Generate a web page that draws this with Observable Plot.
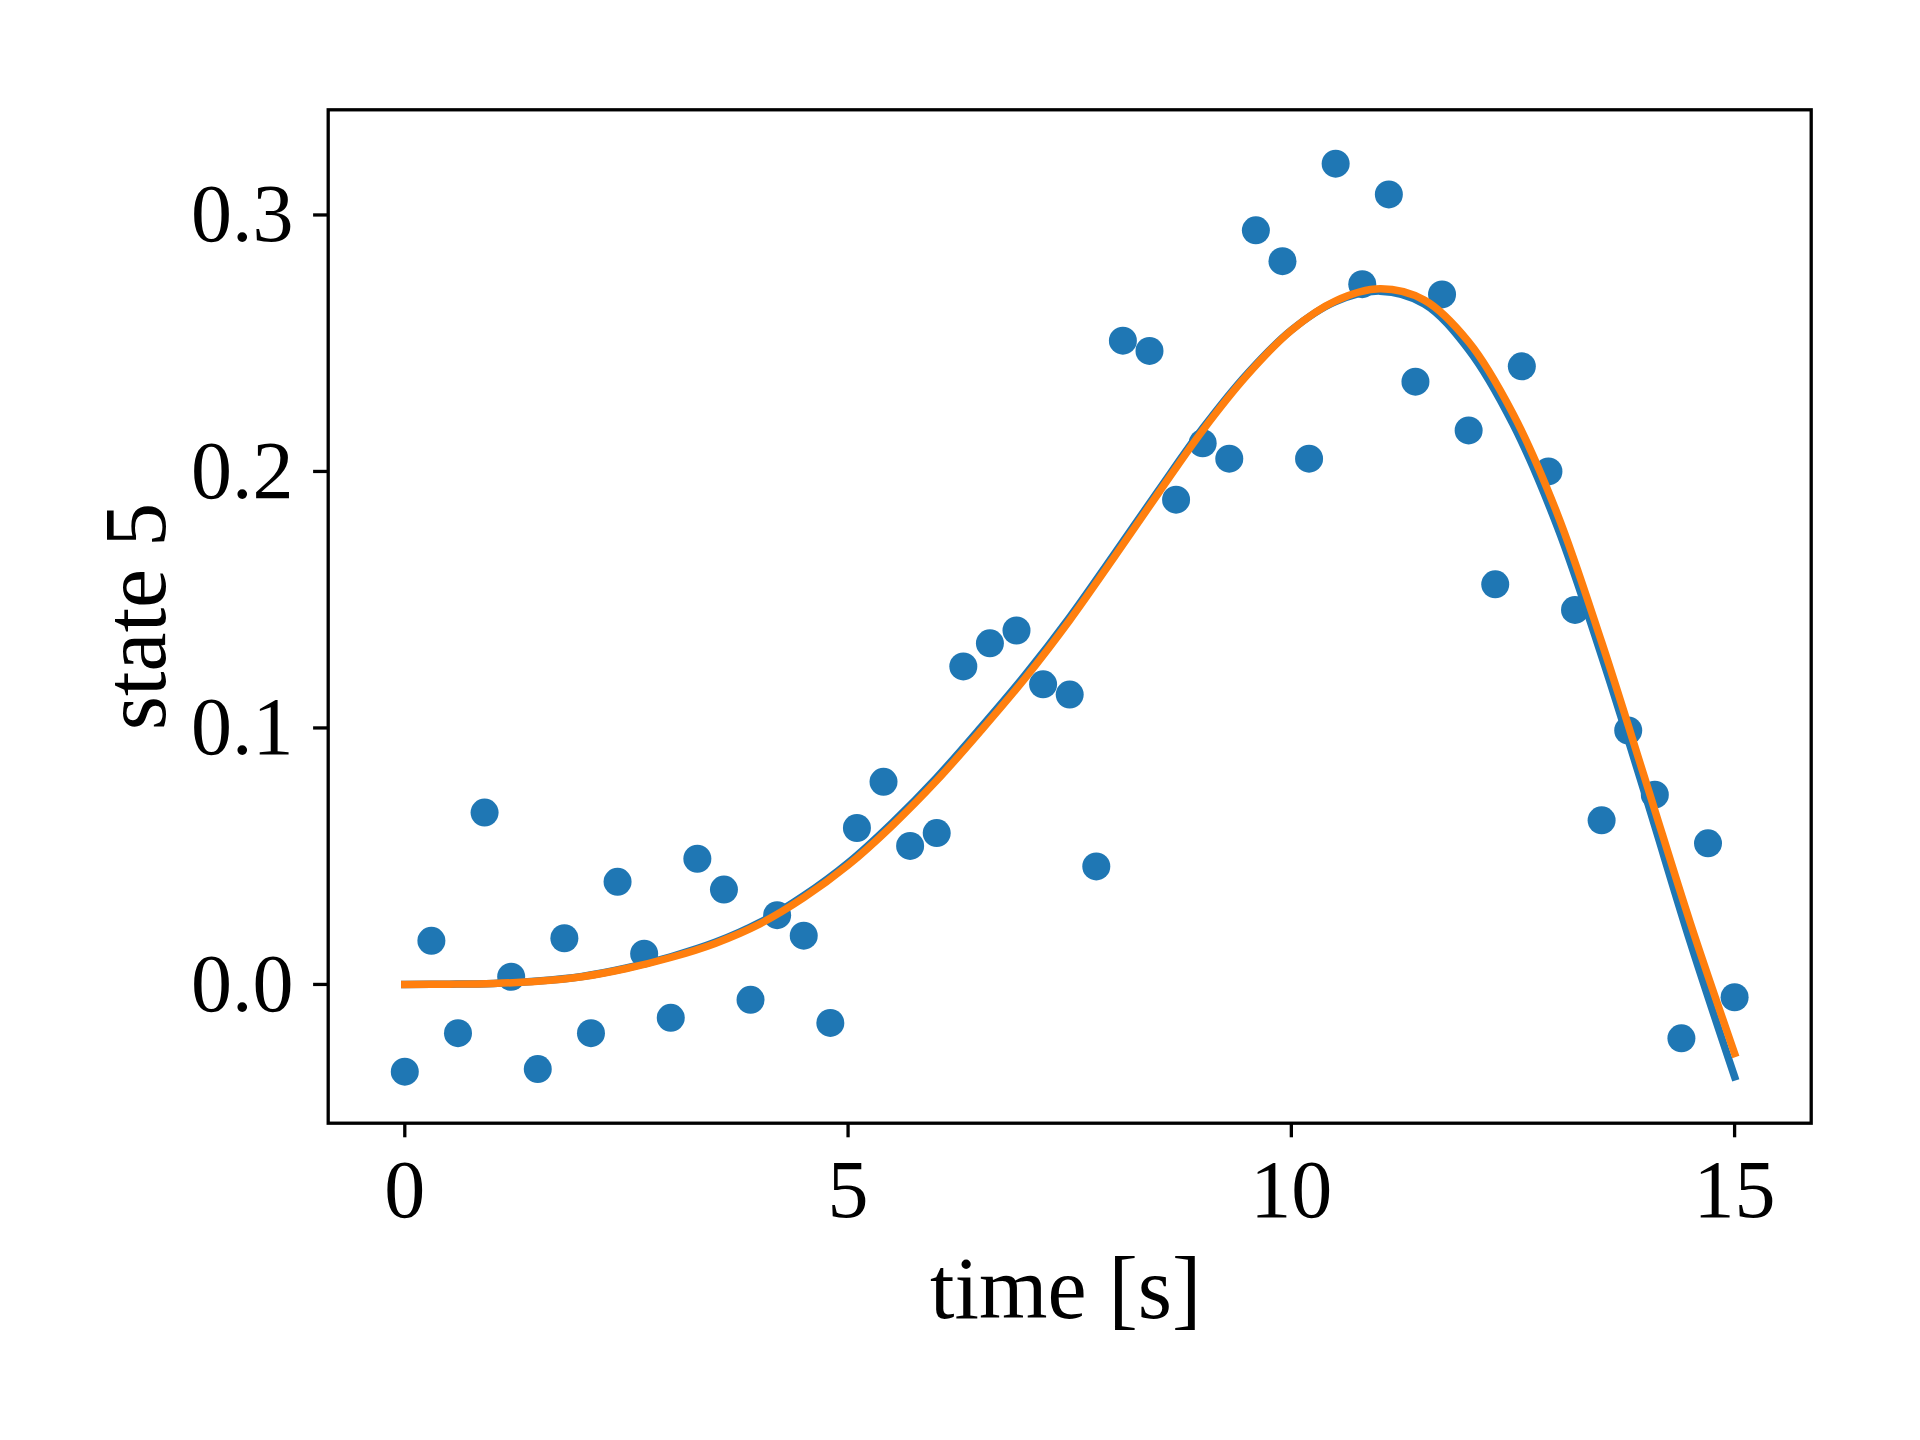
<!DOCTYPE html>
<html>
<head>
<meta charset="utf-8">
<script src="https://cdn.jsdelivr.net/npm/d3@7"></script>
<script src="https://cdn.jsdelivr.net/npm/@observablehq/plot@0.6"></script>
<style>
  html, body { margin: 0; padding: 0; background: #ffffff; }
  #chart { width: 1920px; height: 1440px; }
</style>
</head>
<body>
<div id="chart"></div>
<script>
// ---- data ----
const tObs = [0, 0.3, 0.6, 0.9, 1.2, 1.5, 1.8, 2.1, 2.4, 2.7, 3.0, 3.3, 3.6, 3.9, 4.2, 4.5, 4.8,
  5.1, 5.4, 5.7, 6.0, 6.3, 6.6, 6.9, 7.2, 7.5, 7.8, 8.1, 8.4, 8.7, 9.0, 9.3, 9.6, 9.9,
  10.2, 10.5, 10.8, 11.1, 11.4, 11.7, 12.0, 12.3, 12.6, 12.9, 13.2, 13.5, 13.8, 14.1, 14.4, 14.7, 15.0];
const yObs = [-0.034, 0.017, -0.019, 0.067, 0.003, -0.033, 0.018, -0.019, 0.040, 0.012, -0.013, 0.049, 0.037, -0.006, 0.027, 0.019, -0.015,
  0.061, 0.079, 0.054, 0.059, 0.124, 0.133, 0.138, 0.117, 0.113, 0.046, 0.251, 0.247, 0.189, 0.211, 0.205, 0.294, 0.282,
  0.205, 0.320, 0.273, 0.308, 0.235, 0.269, 0.216, 0.156, 0.241, 0.200, 0.146, 0.064, 0.099, 0.074, -0.021, 0.055, -0.005];

const tCurve = [0, 0.5, 1, 1.5, 2, 2.5, 3, 3.5, 4, 4.5, 5, 5.5, 6, 6.5, 7, 7.5, 8, 8.5, 9, 9.5,
  10, 10.5, 11, 11.5, 12, 12.5, 13, 13.5, 14, 14.5, 15];
const yTrue = [0, 0.0001, 0.0004, 0.0013, 0.0031, 0.0064, 0.0108, 0.0164, 0.0241, 0.0346, 0.0474, 0.0631, 0.0807, 0.1003, 0.1208, 0.1432, 0.1677, 0.1925, 0.2168, 0.2380,
  0.2551, 0.2662, 0.2703, 0.2653, 0.2475, 0.2185, 0.1785, 0.1280, 0.0730, 0.0165, -0.0360];
const yFit = [0, 0.0001, 0.0004, 0.0012, 0.0030, 0.0062, 0.0105, 0.0160, 0.0235, 0.0338, 0.0465, 0.0620, 0.0795, 0.0990, 0.1195, 0.1420, 0.1665, 0.1915, 0.2160, 0.2375,
  0.2550, 0.2665, 0.2712, 0.2668, 0.2505, 0.2225, 0.1835, 0.1335, 0.0790, 0.0240, -0.0269];

const xTicks = [0, 5, 10, 15];
const yTicks = [0, 0.1, 0.2, 0.3];
const xLabel = "time [s]";
const yLabel = "state 5";

// ---- tables ----
const obs = tObs.map((t, i) => ({t, y: yObs[i]}));
const trueLine = tCurve.map((t, i) => ({t, y: yTrue[i]}));
const fitLine = tCurve.map((t, i) => ({t, y: yFit[i]}));

const BLUE = "#1f77b4", ORANGE = "#ff7f0e";
const FONT = "'Liberation Serif', 'DejaVu Serif', serif";

const chart = Plot.plot({
  width: 1920,
  height: 1440,
  marginLeft: 327.7,
  marginRight: 109.3,
  marginTop: 109.3,
  marginBottom: 317.3,
  style: {fontFamily: FONT, fontSize: "82px", background: "#ffffff", color: "#000000"},
  x: {domain: [-0.864, 15.864]},
  y: {domain: [-0.0541, 0.341]},
  marks: [
    Plot.dot(obs, {x: "t", y: "y", r: 14, fill: BLUE, stroke: "none"}),
    Plot.line(trueLine, {x: "t", y: "y", stroke: BLUE, strokeWidth: 7.5, curve: "catmull-rom", strokeLinecap: "square"}),
    Plot.line(fitLine, {x: "t", y: "y", stroke: ORANGE, strokeWidth: 7.5, curve: "catmull-rom", strokeLinecap: "square"}),
    Plot.frame({stroke: "#000", strokeWidth: 3.3}),
    Plot.axisX({ticks: xTicks, tickSize: 14.6, tickPadding: 21, strokeWidth: 3.3, label: null,
      tickFormat: d3.format("d"), fontSize: 82, fill: "#000"}),
    Plot.axisY({ticks: yTicks, tickSize: 14.6, tickPadding: 20, strokeWidth: 3.3, label: null,
      tickFormat: d3.format(".1f"), fontSize: 82, fill: "#000"}),
    Plot.text([xLabel], {text: d => d, frameAnchor: "bottom", dx: -4, dy: 195, lineAnchor: "bottom",
      textAnchor: "middle", fontSize: 88, fill: "#000"}),
    Plot.text([yLabel], {text: d => d, frameAnchor: "left", dx: -163, rotate: -90, lineAnchor: "bottom",
      textAnchor: "middle", fontSize: 88, fill: "#000"})
  ]
});
document.getElementById("chart").appendChild(chart);
</script>
</body>
</html>
